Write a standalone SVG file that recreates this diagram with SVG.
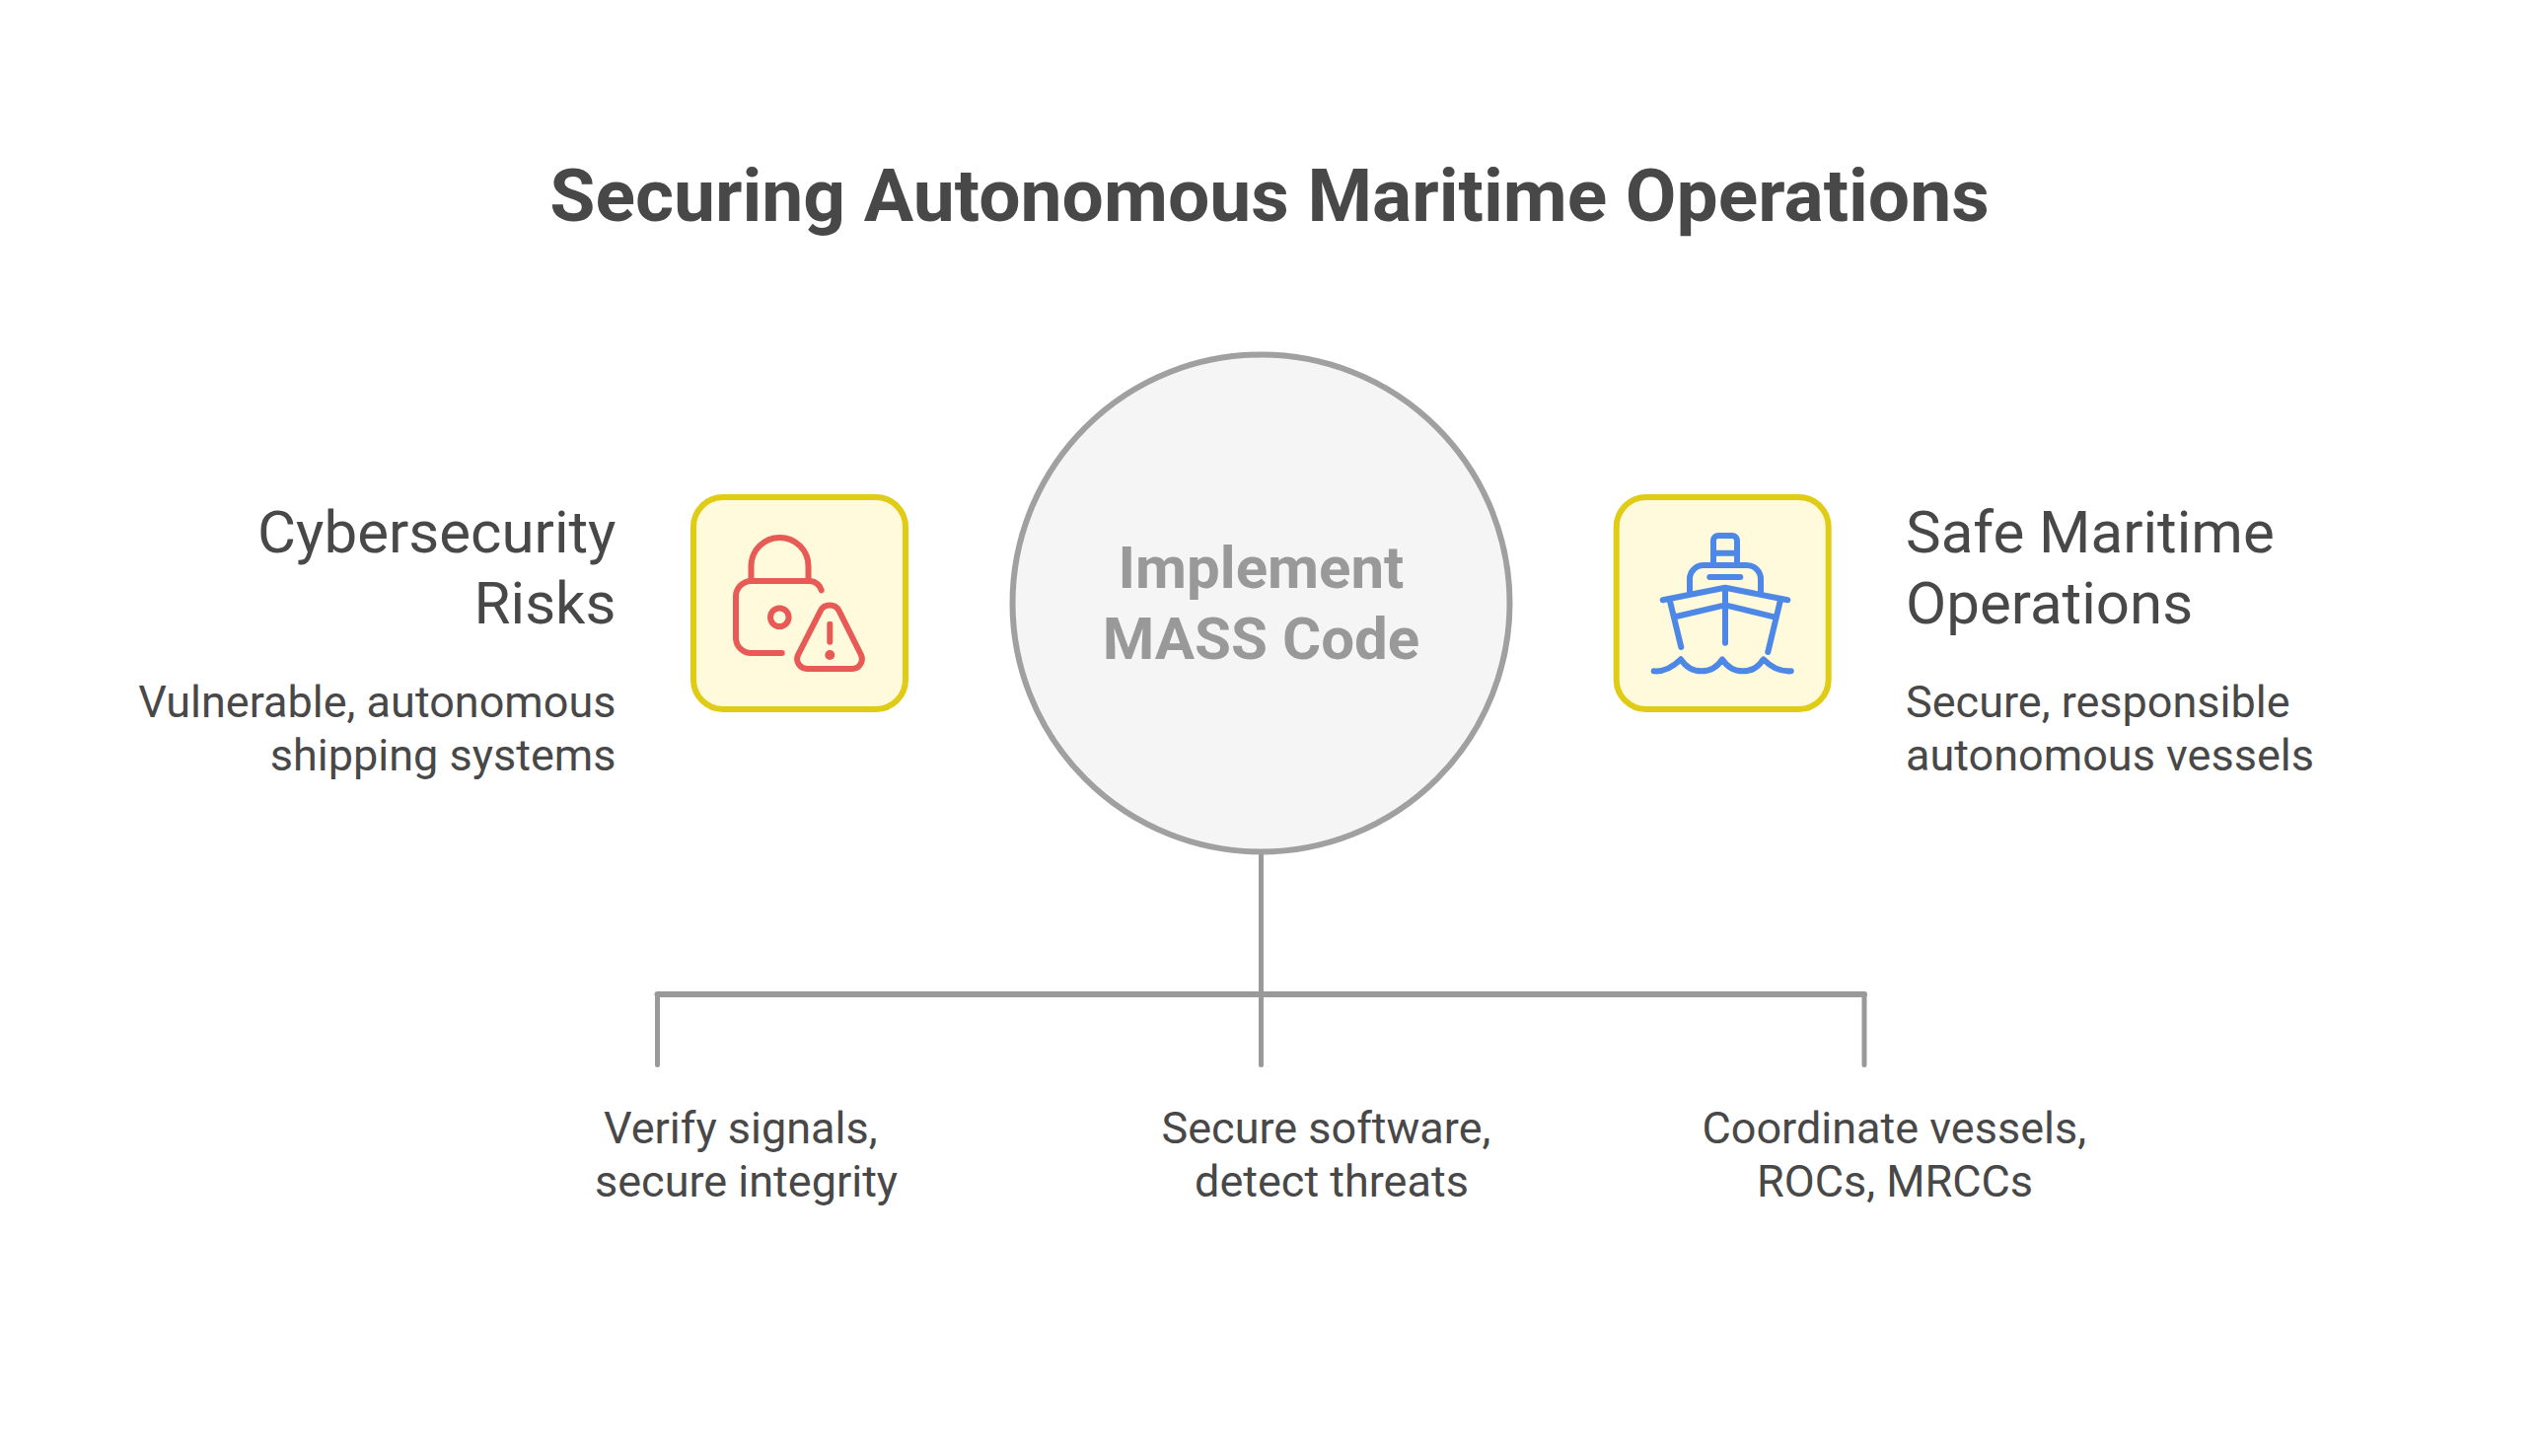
<svg xmlns="http://www.w3.org/2000/svg" width="2574" height="1476" viewBox="0 0 2574 1476">
<style>
text{font-family:Roboto,"Liberation Sans",sans-serif;fill:#484848}
.t{font-size:75px;font-weight:700}
.h{font-size:60px}
.d{font-size:45px}
.c{font-size:60px;font-weight:700;fill:#999;text-anchor:middle}
.e{text-anchor:end}
.b{fill:#fffadb;stroke:#e0cb15;stroke-width:6}
.i{fill:none;stroke-width:6;stroke-linecap:round;stroke-linejoin:round}
.l{stroke:#e85a55}.s{stroke:#4e88e7}
.k{fill:none;stroke:#999;stroke-linecap:round}
</style>
<rect width="2574" height="1476" fill="#fff"/>
<g id="title"><text class="t" x="1287" y="224" text-anchor="middle">Securing Autonomous Maritime Operations</text></g>
<g id="connectors">
<path class="k" stroke-width="5" d="M1278.500 864V1008M666.500 1079.500V1008M1278.500 1079.500V1008M1890 1079.500V1008"/>
<path class="k" stroke-width="6" d="M666.500 1008H1890"/>
</g>
<g id="center"><circle cx="1278.500" cy="611.500" r="252" fill="#f5f5f5" stroke="#a0a0a0" stroke-width="6"/>
<text class="c" x="1278.500" y="596">Implement</text><text class="c" x="1278.500" y="668">MASS Code</text></g>
<g id="risk">
<rect class="b" x="703" y="504" width="215" height="215" rx="30"/>
<g class="i l">
<path d="M761.500 588V574a29 29 0 0 1 58 0V588"/>
<path d="M832.700 598.300A14 14 0 0 0 821.700 589H761.700A15.700 15.700 0 0 0 746 605V646.700A15.500 15.500 0 0 0 761.700 662H792.700"/>
<circle cx="790.300" cy="625.700" r="9.300"/>
<path d="M819 678H864A10 10 0 0 0 873 664L850.700 619.300A10.700 10.700 0 0 0 831.700 619.300L809 664A10 10 0 0 0 819 678Z"/>
<path d="M841.300 632.700V650.700"/>
</g>
<circle cx="841.300" cy="664" r="5" fill="#e85a55"/>
<text class="h e" x="624.500" y="560">Cybersecurity</text><text class="h e" x="624.500" y="632">Risks</text>
<text class="d e" x="624.500" y="727">Vulnerable, autonomous</text><text class="d e" x="624.500" y="781">shipping systems</text>
</g>
<g id="safe">
<rect class="b" x="1638.700" y="504" width="215" height="215" rx="30"/>
<g class="i s">
<path d="M1737 571V548a5 5 0 0 1 5-5H1756a5 5 0 0 1 5 5V571M1737 560.700H1761"/>
<path d="M1713 600V587a14 14 0 0 1 14-14H1771a14 14 0 0 1 14 14V600M1733.300 585H1764.300"/>
<path d="M1685.700 608.300L1749 595.700L1812.300 608.300M1692.700 608.300L1704.300 656M1805 608.300L1792.300 661M1749 595.700V651.700M1699.300 625L1749 613.300L1799.300 625.700"/>
<path d="M1676.700 680.300C1686 681 1696 676 1704 668.300C1709 676 1716 680.300 1725 680.300C1734 680.300 1741 676 1746 668.300C1751 676 1758 680.300 1767 680.300C1776 680.300 1783 676 1787.700 668.300C1795 676 1805 681 1815.700 680.300"/>
</g>
<text class="h" x="1932" y="560">Safe Maritime</text><text class="h" x="1932" y="632">Operations</text>
<text class="d" x="1932" y="727">Secure, responsible</text><text class="d" x="1932" y="781">autonomous vessels</text>
</g>
<g id="item1"><text class="d" x="612" y="1159">Verify signals,</text><text class="d" x="603" y="1213">secure integrity</text></g>
<g id="item2"><text class="d" x="1177.500" y="1159">Secure software,</text><text class="d" x="1211" y="1213">detect threats</text></g>
<g id="item3"><text class="d" x="1725.500" y="1159">Coordinate vessels,</text><text class="d" x="1781" y="1213">ROCs, MRCCs</text></g>
</svg>
